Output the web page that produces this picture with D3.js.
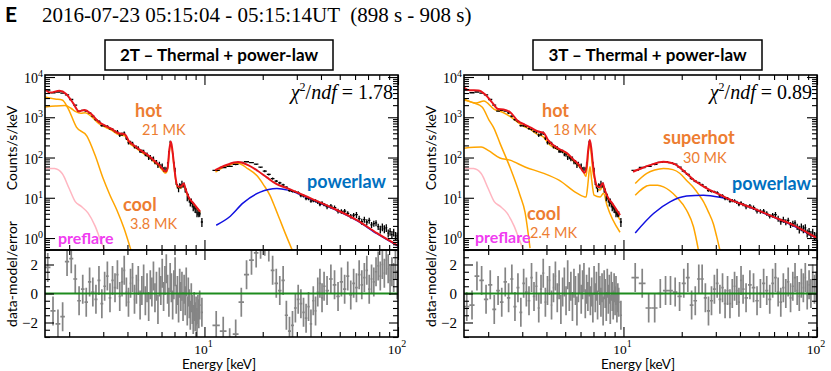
<!DOCTYPE html>
<html>
<head>
<meta charset="utf-8">
<script src="https://cdn.jsdelivr.net/npm/d3@7"></script>
<style>
  body { margin: 0; background: #fff; }
</style>
</head>
<body>
<div id="chart"></div>
<script>
// ---------------- data ----------------
var headerText = "2016-07-23 05:15:04 - 05:15:14UT  (898 s - 908 s)";

// soft band spectrum (keV, counts/s/keV, error %)
var softE = [1.55,1.65,1.75,1.85,1.95,2.05,2.15,2.25,2.35,2.45,
  2.55,2.65,2.75,2.85,2.95,3.05,3.15,3.25,3.35,3.45,
  3.55,3.65,3.75,3.85,3.95,4.05,4.15,4.25,4.35,4.45,
  4.55,4.65,4.75,4.85,4.95,5.05,5.15,5.25,5.35,5.45,
  5.55,5.65,5.75,5.85,5.95,6.05,6.15,6.25,6.35,6.45,
  6.55,6.65,6.75,6.85,6.95,7.05,7.15,7.25,7.35,7.45,
  7.55,7.65,7.75,7.85,7.95,8.05,8.15,8.25,8.35,8.45,
  8.55,8.65,8.75,8.85,8.95,9.05,9.15,9.25,9.35,9.45,9.7];
var softCounts = [4750,4070,4240,3970,3610,2760,2010,1420,1490,1420,
  1280,1065,872,794,618,615,594,522,502,446,
  436,358,383,404,302,235,236,225,186,182,
  172,143,143,141,119,119,98.3,103,91.8,94.2,
  76.9,77.3,62.2,69.7,61.1,63.1,51.1,53.0,50.7,72.3,
  136,244,219,120,73.6,49.6,23.8,19.5,15.8,20.2,
  19.5,23.3,20.5,21.1,15.6,15.1,9.8,10.9,8.95,7.2,
  8.3,6.8,5.5,6.1,5.0,4.9,3.9,4.3,3.9,4.0,2.5];
var softErr = [3,3,3,3,3,3,3,3,3,3,
  6,6,6,6,6,6,6,6,6,6,
  10,10,10,10,10,10,10,10,10,10,
  10,10,10,10,10,12,12,12,12,12,
  12,12,12,12,12,12,12,12,12,7,
  7,7,7,7,7,13,13,13,13,13,
  13,13,13,13,13,13,16,16,16,16,
  16,16,16,16,16,16,16,16,16,16,25];

// hard band spectrum
var hardE = [11.5,12.5,13.5,14.5,15.5,16.5,17.5,18.5,19.5,20.5,
  21.5,22.5,23.5,24.5,25.5,26.5,27.5,28.5,29.5,30.5,
  31.5,32.5,33.5,34.5,35.5,36.5,37.5,38.5,39.5,40.5,41.5,
  43,45,47,49,51,53,55,57,59,
  61,63,65,67,69,71,73,75,77,79,
  81,83,85,87,89,91,93,95,97,99];
var hardCounts = [48.0,56.5,60.5,67.2,76,78.6,74.6,68.3,57.5,46.0,
  38.0,30.0,26.0,23.5,21.0,18.3,15.0,14.4,14.0,13.4,
  11.3,11.2,9.5,9.6,8.3,8.5,8.4,7.7,6.8,7.5,6.8,
  6.0,6.2,5.7,4.7,4.6,4.66,4.1,3.5,3.7,
  3.8,3.05,2.56,2.88,2.5,2.73,2.13,2.28,2.37,1.92,
  1.66,1.89,1.69,1.80,1.33,1.46,1.22,1.40,1.15,1.13];
var hardErr = [4,4,4,4,4,4,4,4,4,6,
  6,6,6,6,6,6,6,6,6,9,
  9,9,9,9,9,9,9,9,9,9,9,
  13,13,13,13,13,13,13,13,13,
  17,17,17,17,17,17,17,17,17,17,
  22,22,22,22,22,22,22,22,22,22];

// residuals (data-model)/error
var resid2TSoft = [1.8,-1.2,-2.1,-1.6,2.2,2.4,1.0,-0.5,0.3,-0.6,
  0.8,0.1,-0.4,0.9,-0.7,0.5,1.2,-0.3,0.9,0.4,
  1.3,-0.2,0.8,1.6,0.1,-0.6,0.7,1.1,-0.4,0.3,
  0.9,-0.8,0.2,1.0,-0.5,0.4,-0.9,0.6,0.1,1.2,
  -0.3,0.5,-1.1,0.8,0.2,1.4,-0.2,0.9,1.7,0.3,
  -0.6,1.1,0.4,-0.8,0.6,1.5,-0.4,0.2,-1.0,0.7,
  -0.2,0.5,-0.9,0.3,-0.5,0.8,-1.2,0.1,-0.7,-1.5,
  -0.3,-1.1,-1.8,-0.9,-1.6,-1.2,-2.0,-1.1,-1.4,-0.8,-1.3];
var resid2THard = [-2.2,-2.6,-3.4,-2.8,-0.6,1.3,2.3,2.8,3.4,3.6,
  3.2,1.6,0.7,0.2,0.9,-1.5,-2.6,-2.2,-1.0,-0.4,
  -0.7,-1.3,-1.7,-0.9,-2.1,-0.5,-1.2,0.1,0.7,-0.3,0.5,
  0.2,1.0,0.6,-0.2,0.8,0.3,1.2,-0.1,0.7,
  0.4,1.3,0.6,1.1,1.6,0.3,1.0,0.8,1.5,1.9,
  1.2,2.0,1.4,2.3,1.7,0.9,1.5,1.1,2.0,0.6];
var resid3TSoft = [-0.9,-0.8,1.2,0.9,-0.4,0.6,-1.1,0.2,-0.6,0.8,
  -0.3,1.0,-0.9,0.4,-1.3,0.7,0.1,-0.5,1.1,-0.2,
  0.5,-1.0,0.3,1.4,-0.6,0.2,0.9,-0.8,0.4,1.2,
  -0.3,0.6,-1.1,0.1,0.8,-0.5,1.3,-0.2,0.5,-0.9,
  0.7,0.2,-1.2,0.4,1.0,-0.4,0.6,1.1,-0.7,0.3,
  -0.2,0.8,-0.5,0.1,-1.0,0.9,-0.3,0.5,-0.8,1.1,
  0.2,-0.6,0.4,-1.2,0.6,0.0,-0.9,0.7,-0.4,0.3,
  -1.1,0.5,-0.2,-0.8,0.4,-0.5,0.2,-1.0,-0.3,-0.6,-1.5];
var resid3THard = [1.1,0.7,-1.0,-1.0,0.0,0.2,0.2,0.1,-0.2,0.7,
  1.1,-0.8,-0.5,1.0,1.0,-0.3,-1.2,-0.5,0.3,0.7,
  -0.4,0.4,-0.7,0.2,-0.7,0.0,0.5,0.2,-0.6,0.9,0.3,
  -0.3,0.6,0.4,-0.5,0.0,0.7,0.2,-0.4,0.7,
  1.1,0.1,-0.6,0.4,0.0,0.8,-0.3,0.5,1.1,0.2,
  -0.2,0.7,0.4,1.1,-0.1,0.6,0.0,1.0,0.3,0.5];

// model curves [keV, counts/s/keV]
var preflare = [[1.5,54],[1.68,53],[1.84,40],[2.0,17],[2.15,8],[2.3,6.2],[2.5,4.2],[2.72,2.0],[2.9,0.9],[3.1,0.4]];

var fit2TTotalSoft = [[1.5,4900],[1.6,4100],[1.78,4570],[1.93,3800],[2.1,2220],[2.25,1400],[2.4,1520],[2.6,1200],[2.85,760],[3.1,600],[3.3,520],[3.6,400],[3.88,375],[4.08,250],[4.3,205],[4.64,155],[5.1,115],[5.5,83],[5.9,62],[6.3,45],[6.45,55],[6.58,150],[6.7,250],[6.82,160],[6.95,70],[7.1,30],[7.3,19],[7.55,19],[7.82,22.7],[8.0,16],[8.3,10.2],[8.8,7.2],[9.5,4.5]];
var fit2THotSoft = [[1.5,1800],[1.7,1900],[1.9,1950],[2.05,1650],[2.15,1400],[2.3,1250],[2.42,1300],[2.6,1050],[2.85,690],[3.1,555],[3.3,480],[3.6,370],[3.88,345],[4.08,230],[4.3,190],[4.64,143],[5.1,106],[5.5,77],[5.9,57],[6.3,41],[6.45,51],[6.58,140],[6.7,235],[6.82,150],[6.95,65],[7.1,28],[7.3,17.5],[7.55,17.5],[7.82,21],[8.0,15],[8.3,9.5],[8.8,6.7],[9.5,4.2]];
var fit2TCoolSoft = [[1.5,3180],[1.69,2840],[1.84,2680],[1.97,1695],[2.18,570],[2.47,340],[2.72,115],[2.99,30.8],[3.25,11.6],[3.53,4.9],[3.84,1.75],[4.17,0.5]];
var fit2TTotalHard = [[11.35,48.6],[13,65],[14.9,76.9],[16.8,64.8],[18.8,47],[21,32],[23.5,22],[26.7,17.3],[35.2,9.77],[46.2,5.5],[61.4,2.77],[77.9,1.32],[100,0.65]];
var fit2THotHard = [[11.4,43.6],[13,62],[14.9,72.4],[16.8,52],[18.7,35],[20.2,21],[21.8,11.5],[23.2,5.6],[24.6,2.75],[26,1.4],[27,0.9],[28.4,0.5]];
var fit2TPowHard = [[11.5,2.08],[13.6,3.48],[15.8,7.35],[19.4,13.8],[23.7,17.0],[27,15.5],[35.2,9.3],[46.2,5.3],[61.4,2.7],[77.9,1.28],[100,0.63]];

var fit3TTotalSoft = [[1.5,5500],[1.6,4700],[1.78,4650],[1.93,3700],[2.1,2300],[2.25,1600],[2.4,1560],[2.6,1330],[2.85,805],[3.1,650],[3.3,560],[3.6,450],[3.88,405],[4.08,270],[4.3,210],[4.64,165],[5.1,130],[5.5,90],[5.9,65],[6.3,42],[6.45,60],[6.58,160],[6.7,271],[6.82,170],[6.95,70],[7.1,32],[7.3,19.5],[7.55,18.5],[7.82,23],[8.0,16],[8.3,10.4],[8.8,7.0],[9.6,3.7]];
var fit3THotSoft = [[1.5,2840],[1.73,2250],[1.9,2530],[2.14,1600],[2.36,1350],[2.59,1050],[3.03,604],[3.3,500],[3.57,382],[3.84,331],[4.17,204],[4.5,165],[5.1,122],[5.5,82],[5.9,60],[6.18,46],[6.4,34],[6.5,60],[6.6,150],[6.7,210],[6.82,120],[6.95,45],[7.13,27.4],[7.35,16],[7.57,15.5],[7.84,19.4],[8.05,13.5],[8.22,10.4],[8.8,6.0],[9.6,2.8]];
var fit3TCoolSoft = [[1.5,2680],[1.69,2250],[1.86,1795],[2.02,853],[2.14,539],[2.3,228],[2.59,57.7],[2.92,11.6],[3.1,4.4],[3.29,0.56]];
var fit3TSuperSoft = [[1.5,171],[1.84,182],[2.0,150],[2.3,97],[2.59,86],[3.1,58],[3.84,41],[4.64,27.4],[5.75,13],[6.41,10.4],[6.55,22],[6.65,45],[6.72,58.7],[6.85,28],[7.05,11.6],[7.57,10.4],[7.89,13],[8.22,6.5],[9.6,1.39]];
var fit3TTotalHard = [[11.2,44.2],[12.5,55],[13.7,64.7],[16.1,78.3],[18.1,71.3],[21.2,40],[23,28],[24.9,21.5],[28,15.5],[31.5,12],[34.2,9.8],[46.9,5.45],[59.5,3.35],[75.5,2.08],[97.8,1.06],[100,1.0]];
var fit3THotHard = [[11.5,11.6],[13.7,20.6],[15,20.5],[16.1,18.7],[18.8,10.5],[21.2,4.9],[23,1.9],[24.4,0.5]];
var fit3TSuperHard = [[11.5,22.7],[13.2,40.3],[14.5,49],[16.1,53.6],[18,50],[19.6,40],[21.2,27],[23,18],[24.5,12],[25.9,8.0],[27.5,4.4],[29.1,2.3],[30.3,1.1],[31.5,0.5]];
var fit3TPowHard = [[11.5,1.34],[14.3,4.07],[17.4,7.9],[21.2,11],[25.9,11.6],[31.5,10.3],[35.5,9.0],[46.9,5.3],[59.5,3.3],[75.5,2.02],[97.8,1.04],[100,0.99]];

var chiValues = ["1.78", "0.89"];

// axis ticks
var energyRange = [1.5, 100];
var countRange = [0.504, 11220];
var residRange = [-3, 3];
var xMajor = [10, 100];
var xMinor = [2,3,4,5,6,7,8,9,20,30,40,50,60,70,80,90];
var yMajor = [1, 10, 100, 1000, 10000];
var yMinor = [0.6,0.7,0.8,0.9,2,3,4,5,6,7,8,9,20,30,40,50,60,70,80,90,
  200,300,400,500,600,700,800,900,2000,3000,4000,5000,6000,7000,8000,9000];
var rMajor = [-2, 0, 2];
var rMinor = [-3,-2.5,-1.5,-1,-0.5,0.5,1,1.5,2.5,3];

// ---------------- drawing ----------------
var width = 831, height = 371;
var plotW = 353, topY = 75, midY = 250, botY = 337;
var sans = "Lato, 'Open Sans', sans-serif";
var serif = "'Liberation Serif', 'Times New Roman', serif";
var orange = "#ED7D31", magenta = "#F03CF0", blueLbl = "#0070C0";

var svg = d3.select("#chart").append("svg")
    .attr("width", width)
    .attr("height", height);

svg.append("text").attr("x", 5).attr("y", 22).text("E")
    .style("font-family", sans).style("font-weight", "bold").style("font-size", "21px");
svg.append("text").attr("x", 42).attr("y", 22).text(headerText)
    .style("font-family", serif).style("font-size", "21px").style("white-space", "pre");

var panels = [
  {x0: 45, boxX: 105, boxW: 228, title: "2T \u2013 Thermal + power-law", chi: chiValues[0],
   rSoft: resid2TSoft, rHard: resid2THard, ylab: 17,
   orangeLines: [fit2THotSoft, fit2TCoolSoft, fit2THotHard],
   blueLines: [fit2TPowHard], redLines: [fit2TTotalSoft, fit2TTotalHard],
   labels: [
     {t: "hot", dx: 90, y: 117, size: 18, bold: true, c: orange},
     {t: "21 MK", dx: 97, y: 135, size: 14.5, c: orange},
     {t: "cool", dx: 78, y: 211, size: 18, bold: true, c: orange},
     {t: "3.8 MK", dx: 85, y: 229, size: 14.5, c: orange},
     {t: "preflare", dx: 13, y: 244, size: 16, bold: true, c: magenta},
     {t: "powerlaw", dx: 262, y: 188, size: 18, bold: true, c: blueLbl}
   ]},
  {x0: 464, boxX: 533, boxW: 229, title: "3T \u2013 Thermal + power-law", chi: chiValues[1],
   rSoft: resid3TSoft, rHard: resid3THard, ylab: 436,
   orangeLines: [fit3THotSoft, fit3TCoolSoft, fit3TSuperSoft, fit3THotHard, fit3TSuperHard],
   blueLines: [fit3TPowHard], redLines: [fit3TTotalSoft, fit3TTotalHard],
   labels: [
     {t: "hot", dx: 78, y: 117, size: 18, bold: true, c: orange},
     {t: "18 MK", dx: 89, y: 135, size: 14.5, c: orange},
     {t: "superhot", dx: 199, y: 144, size: 18, bold: true, c: orange},
     {t: "30 MK", dx: 219, y: 163, size: 14.5, c: orange},
     {t: "powerlaw", dx: 268, y: 190, size: 18, bold: true, c: blueLbl},
     {t: "cool", dx: 63, y: 220, size: 18, bold: true, c: orange},
     {t: "2.4 MK", dx: 66, y: 238, size: 14.5, c: orange},
     {t: "preflare", dx: 11, y: 243, size: 16, bold: true, c: magenta}
   ]}
];

var defs = svg.append("defs");

function makeBins(E, vals) {
  return E.map(function(e, i) {
    var lo = i > 0 ? (E[i - 1] + e) / 2 : e - (E[i + 1] - e) / 2;
    var hi = i < E.length - 1 ? (e + E[i + 1]) / 2 : e + (e - E[i - 1]) / 2;
    return {e: e, lo: lo, hi: hi, v: vals[i], i: i};
  });
}

function ticks(g, axis, pos, vals, len) {
  g.append("g").attr("transform", pos)
    .call(axis.tickValues(vals).tickSize(-len).tickFormat(""))
    .call(function(s) { s.select(".domain").remove(); })
    .selectAll("line").attr("stroke", "#000").attr("stroke-width", 1.1);
}

panels.forEach(function(p, idx) {
  var x = d3.scaleLog().domain(energyRange).range([p.x0, p.x0 + plotW]);
  var y = d3.scaleLog().domain(countRange).range([midY, topY]);
  var r = d3.scaleLinear().domain(residRange).range([botY, midY]);
  var x1 = p.x0 + plotW;

  defs.append("clipPath").attr("id", "ct" + idx).append("rect")
    .attr("x", p.x0).attr("y", topY).attr("width", plotW).attr("height", midY - topY);
  defs.append("clipPath").attr("id", "cr" + idx).append("rect")
    .attr("x", p.x0).attr("y", midY).attr("width", plotW).attr("height", botY - midY);

  var gTop = svg.append("g").attr("clip-path", "url(#ct" + idx + ")");
  var line = d3.line()
    .x(function(d) { return x(d[0]); })
    .y(function(d) { return y(d[1]); })
    .curve(d3.curveMonotoneX);

  gTop.append("path").attr("d", line(preflare))
    .attr("fill", "none").attr("stroke", "#FFB6C1").attr("stroke-width", 1.5);
  p.orangeLines.forEach(function(c) {
    gTop.append("path").attr("d", line(c))
      .attr("fill", "none").attr("stroke", "#FFA500").attr("stroke-width", 1.5);
  });
  p.blueLines.forEach(function(c) {
    gTop.append("path").attr("d", line(c))
      .attr("fill", "none").attr("stroke", "#1010E0").attr("stroke-width", 1.5);
  });

  // data crosses
  var dataBins = makeBins(softE, softCounts).map(function(b) { b.err = softErr[b.i]; return b; })
    .concat(makeBins(hardE, hardCounts).map(function(b) { b.err = hardErr[b.i]; return b; }));
  gTop.selectAll("path.data").data(dataBins).enter().append("path")
    .attr("class", "data")
    .attr("d", function(b) {
      return "M" + x(b.e) + "," + y(b.v * (1 - b.err / 100)) + "V" + y(b.v * (1 + b.err / 100)) +
        "M" + x(b.lo) + "," + y(b.v) + "H" + x(b.hi);
    })
    .attr("fill", "none").attr("stroke", "#000").attr("stroke-width", 1.3);

  p.redLines.forEach(function(c) {
    gTop.append("path").attr("d", line(c))
      .attr("fill", "none").attr("stroke", "#E8141B").attr("stroke-width", 2);
  });

  // residuals
  var gRes = svg.append("g").attr("clip-path", "url(#cr" + idx + ")");
  var resBins = makeBins(softE, p.rSoft).concat(makeBins(hardE, p.rHard));
  gRes.selectAll("path.res").data(resBins).enter().append("path")
    .attr("class", "res")
    .attr("d", function(b) {
      return "M" + x(b.e) + "," + r(b.v - 1) + "V" + r(b.v + 1) +
        "M" + x(b.lo) + "," + r(b.v) + "H" + x(b.hi);
    })
    .attr("fill", "none").attr("stroke", "#858585").attr("stroke-width", 1.7);
  gRes.append("line")
    .attr("x1", p.x0).attr("x2", x1).attr("y1", r(0)).attr("y2", r(0))
    .attr("stroke", "#1E8C1E").attr("stroke-width", 2);

  // ticks (inward, all sides)
  var gA = svg.append("g");
  ticks(gA, d3.axisBottom(x), "translate(0," + midY + ")", xMajor, 10);
  ticks(gA, d3.axisBottom(x), "translate(0," + midY + ")", xMinor, 5);
  ticks(gA, d3.axisTop(x), "translate(0," + topY + ")", xMajor, 10);
  ticks(gA, d3.axisTop(x), "translate(0," + topY + ")", xMinor, 5);
  ticks(gA, d3.axisLeft(y), "translate(" + p.x0 + ",0)", yMajor, 10);
  ticks(gA, d3.axisLeft(y), "translate(" + p.x0 + ",0)", yMinor, 5);
  ticks(gA, d3.axisRight(y), "translate(" + x1 + ",0)", yMajor, 10);
  ticks(gA, d3.axisRight(y), "translate(" + x1 + ",0)", yMinor, 5);
  ticks(gA, d3.axisBottom(x), "translate(0," + botY + ")", xMajor, 10);
  ticks(gA, d3.axisBottom(x), "translate(0," + botY + ")", xMinor, 5);
  ticks(gA, d3.axisTop(x), "translate(0," + midY + ")", xMajor, 10);
  ticks(gA, d3.axisTop(x), "translate(0," + midY + ")", xMinor, 5);
  ticks(gA, d3.axisLeft(r), "translate(" + p.x0 + ",0)", rMajor, 9);
  ticks(gA, d3.axisLeft(r), "translate(" + p.x0 + ",0)", rMinor, 5);
  ticks(gA, d3.axisRight(r), "translate(" + x1 + ",0)", rMajor, 9);
  ticks(gA, d3.axisRight(r), "translate(" + x1 + ",0)", rMinor, 5);

  // frames
  gA.append("rect").attr("x", p.x0).attr("y", topY).attr("width", plotW).attr("height", midY - topY)
    .attr("fill", "none").attr("stroke", "#000").attr("stroke-width", 1.6);
  gA.append("rect").attr("x", p.x0).attr("y", midY).attr("width", plotW).attr("height", botY - midY)
    .attr("fill", "none").attr("stroke", "#000").attr("stroke-width", 1.6);

  // tick labels
  yMajor.forEach(function(v) {
    var t = gA.append("text").attr("x", p.x0 - 2).attr("y", y(v) + 6)
      .attr("text-anchor", "end").style("font-family", serif).style("font-size", "14px");
    t.append("tspan").text("10");
    t.append("tspan").attr("dy", -6).style("font-size", "10px").text(Math.round(Math.log10(v)));
  });
  xMajor.forEach(function(v) {
    var t = gA.append("text").attr("x", x(v) - 1).attr("y", 354)
      .attr("text-anchor", "middle").style("font-family", serif).style("font-size", "13.5px");
    t.append("tspan").text("10");
    t.append("tspan").attr("dy", -7).style("font-size", "10px").text(Math.round(Math.log10(v)));
  });
  rMajor.forEach(function(v) {
    gA.append("text").attr("x", p.x0 - 7).attr("y", r(v) + 5)
      .attr("text-anchor", "end").style("font-family", serif).style("font-size", "15px")
      .text(v < 0 ? "\u2212" + Math.abs(v) : v);
  });

  // axis titles
  gA.append("text").attr("transform", "translate(" + p.ylab + ",148) rotate(-90)")
    .attr("text-anchor", "middle").style("font-family", sans).style("font-size", "14px")
    .text("Counts/s/keV");
  gA.append("text").attr("transform", "translate(" + p.ylab + ",274) rotate(-90)")
    .attr("text-anchor", "middle").style("font-family", sans).style("font-size", "14px")
    .text("data-model/error");
  gA.append("text").attr("x", p.x0 + 174).attr("y", 369)
    .attr("text-anchor", "middle").style("font-family", sans).style("font-size", "13.5px")
    .text("Energy [keV]");

  // title box
  gA.append("rect").attr("x", p.boxX).attr("y", 40).attr("width", p.boxW).attr("height", 30)
    .attr("fill", "#fff").attr("stroke", "#000").attr("stroke-width", 1.5);
  gA.append("text").attr("x", p.boxX + p.boxW / 2).attr("y", 61)
    .attr("text-anchor", "middle").style("font-family", sans).style("font-weight", "bold")
    .style("font-size", "17px").text(p.title);

  // chi-square
  var ct = gA.append("text").attr("x", p.x0 + 348).attr("y", 99)
    .attr("text-anchor", "end").style("font-family", serif).style("font-size", "20px")
    .style("white-space", "pre");
  ct.append("tspan").style("font-style", "italic").text("\u03C7");
  ct.append("tspan").attr("dy", -8).style("font-size", "12px").text("2");
  ct.append("tspan").attr("dy", 8).text("/");
  ct.append("tspan").style("font-style", "italic").text("ndf");
  ct.append("tspan").text(" = " + p.chi);

  // component labels
  p.labels.forEach(function(l) {
    gA.append("text").attr("x", p.x0 + l.dx).attr("y", l.y).text(l.t)
      .style("font-family", sans).style("font-size", l.size + "px")
      .style("font-weight", l.bold ? "bold" : "normal").attr("fill", l.c);
  });
});
</script>
</body>
</html>
